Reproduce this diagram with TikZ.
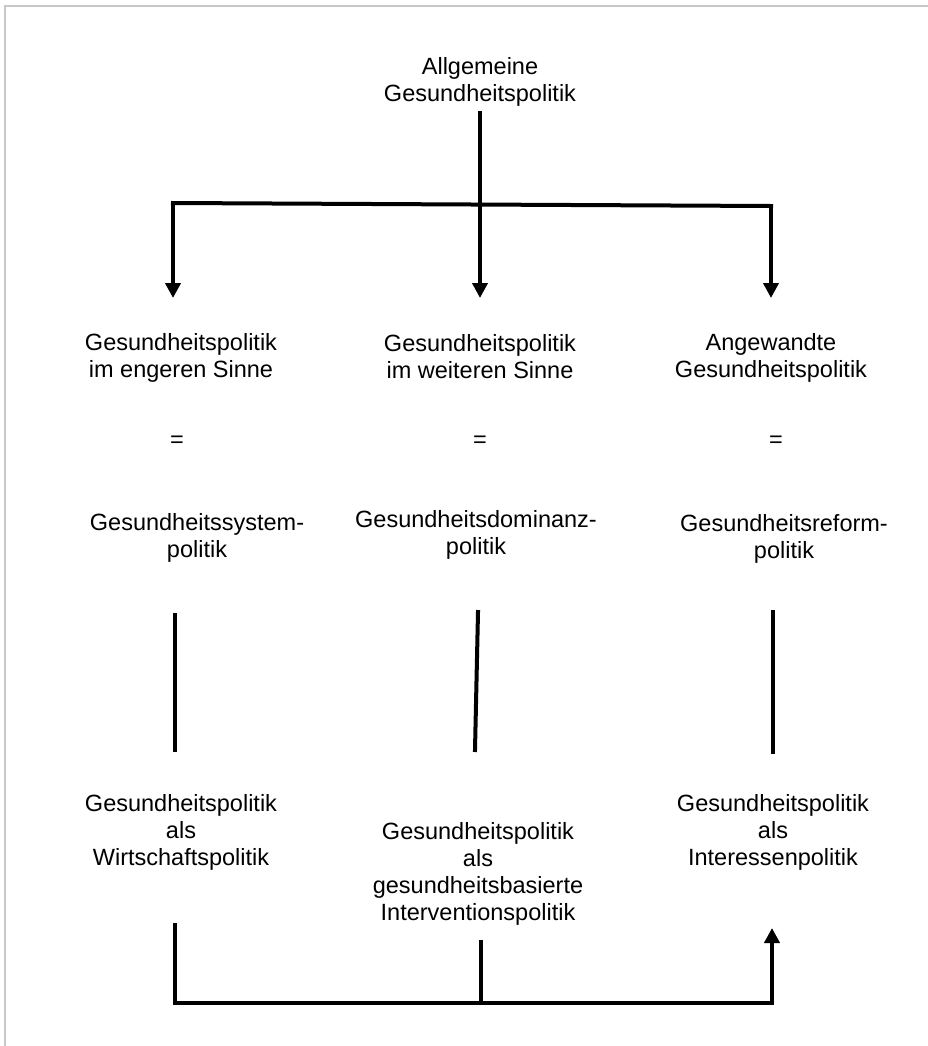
\documentclass[tikz,border=0pt]{standalone}
\usepackage{fontspec}
\setmainfont{Liberation Sans}
\usetikzlibrary{arrows.meta}
\definecolor{framegray}{RGB}{200,200,200}
\tikzset{
  lbl/.style={align=center, inner sep=0pt, font=\fontsize{23.5bp}{27bp}\selectfont},
  conn/.style={line width=4bp, line cap=rect, line join=miter},
  arr/.style={conn, -{Triangle[width=15bp,length=15bp]}},
}
\begin{document}
\begin{tikzpicture}[x=1bp,y=-1bp]
\useasboundingbox (0,0) rectangle (928,1046);
\fill[white] (0,0) rectangle (928,1046);
\draw[framegray, line width=2bp] (5,1046) -- (5,6) -- (928,6);

\node[lbl] (top) at (480,82) {Allgemeine\\Gesundheitspolitik};
\node[lbl] (a1) at (181,358) {Gesundheitspolitik\\im engeren Sinne};
\node[lbl] (a2) at (480,357) {Gesundheitspolitik\\im weiteren Sinne};
\node[lbl] (a3) at (771,358) {Angewandte\\Gesundheitspolitik};
\node[lbl] (e1) at (177,442) {=};
\node[lbl] (e2) at (480,442) {=};
\node[lbl] (e3) at (776,442) {=};
\node[lbl] (b1) at (197,538) {Gesundheitssystem-\\politik};
\node[lbl] (b2) at (476,535) {Gesundheitsdominanz-\\politik};
\node[lbl] (b3) at (784,539) {Gesundheitsreform-\\politik};
\node[lbl] (c1) at (181,832) {Gesundheitspolitik\\als\\Wirtschaftspolitik};
\node[lbl] (c2) at (478,874) {Gesundheitspolitik\\als\\gesundheitsbasierte\\Interventionspolitik};
\node[lbl] (c3) at (773,832) {Gesundheitspolitik\\als\\Interessenpolitik};

% top distribution
\coordinate (ts) at (480,113);
\coordinate (hl) at (173,203);
\coordinate (hr) at (771,206);
\coordinate (t1) at (173,298);
\coordinate (t2) at (480,298);
\coordinate (t3) at (771,298);
\draw[conn] (hl) -- (hr);
\draw[arr] (ts) -- (t2);
\draw[arr] (hl) -- (t1);
\draw[arr] (hr) -- (t3);

% middle lines
\coordinate (m1a) at (175,615); \coordinate (m1b) at (175,750);
\coordinate (m2a) at (478,612); \coordinate (m2b) at (475,750);
\coordinate (m3a) at (773,612); \coordinate (m3b) at (773,752);
\draw[conn] (m1a) -- (m1b);
\draw[conn] (m2a) -- (m2b);
\draw[conn] (m3a) -- (m3b);

% bottom connector
\coordinate (l1) at (175,925);
\coordinate (l2) at (481,942);
\coordinate (bl) at (175,1003);
\coordinate (bm) at (481,1003);
\coordinate (br) at (772,1003);
\coordinate (l3) at (772,928);
\draw[conn] (l1) -- (bl) -- (br);
\draw[conn] (l2) -- (bm);
\draw[arr] (br) -- (l3);
\end{tikzpicture}
\end{document}
